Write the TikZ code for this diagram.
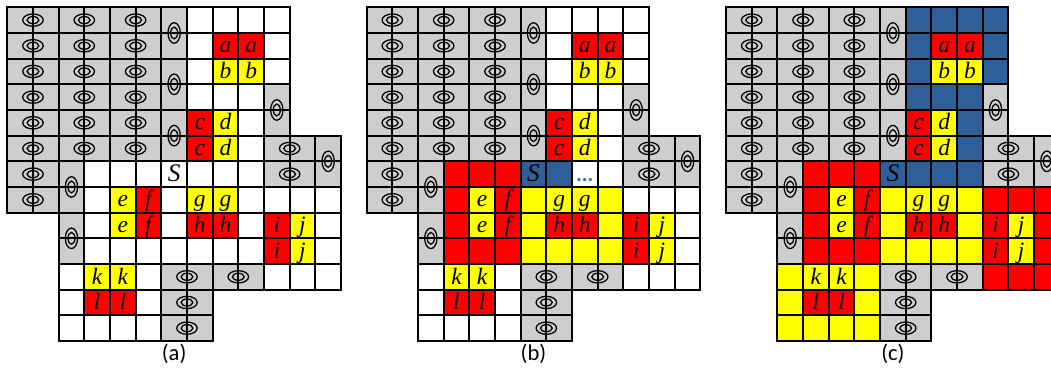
\documentclass[tikz,border=0pt]{standalone}
\usepackage{fontspec}
\setmainfont{Liberation Serif}
\newfontfamily\capfont{Carlito}
\definecolor{cellgray}{RGB}{206,206,206}
\definecolor{cellred}{RGB}{255,0,0}
\definecolor{cellyellow}{RGB}{255,255,0}
\definecolor{cellblue}{RGB}{46,95,152}
\definecolor{dotblue}{RGB}{58,108,182}
\begin{document}
\begin{tikzpicture}[x=0.5cm,y=-0.5cm,
  gridline/.style={line width=1pt,black,line join=miter},
  hole/.style={line width=0.7pt,black},
  tag/.style={font=\fontsize{13}{14}\selectfont\itshape,anchor=base,inner sep=0pt},
  bigtag/.style={font=\fontsize{14}{15}\selectfont\itshape,anchor=base,inner sep=0pt},
  caption/.style={font=\capfont\fontsize{12.5}{14}\selectfont,inner sep=0pt},
  dots/.style={font=\capfont\bfseries\fontsize{12}{13}\selectfont,text=dotblue,anchor=base,inner sep=0pt}]
\path[use as bounding box] (-0.284,-0.284) rectangle (40.66,14.13);
\clip (-0.284,-0.284) rectangle (40.66,14.13);

% ---- fills common to all three panels
\foreach \p/\sh in {a/0,b/7,c/14}{
  \begin{scope}[xshift=\sh cm]
    % gray blocks
    \fill[cellgray] (0,0) rectangle (7,6);
    \fill[cellgray] (0,6) rectangle (2,8);
    \fill[cellgray] (2,6) rectangle (3,10);
    \fill[cellgray] (10,3) rectangle (11,5);
    \fill[cellgray] (10,5) rectangle (13,7);
    \fill[cellgray] (6,10) rectangle (10,11);
    \fill[cellgray] (6,11) rectangle (8,13);
    % lettered cells
    \foreach \c/\r in {8/1,9/1,7/4,7/5,5/7,5/8,7/8,8/8,10/8,10/9,3/11,4/11}
      \fill[cellred] (\c,\r) rectangle ++(1,1);
    \foreach \c/\r in {8/2,9/2,8/4,8/5,4/7,4/8,7/7,8/7,11/8,11/9,3/10,4/10}
      \fill[cellyellow] (\c,\r) rectangle ++(1,1);
  \end{scope}
}

% ---- regions grown in panels (b) and (c)
\foreach \sh in {7,14}{
  \begin{scope}[xshift=\sh cm]
    \foreach \c/\r in {3/6,4/6,5/6,3/7,3/8,3/9,4/9,5/9}
      \fill[cellred] (\c,\r) rectangle ++(1,1);
    \foreach \c/\r in {6/7,6/8,6/9,9/7,9/8,7/9,8/9,9/9}
      \fill[cellyellow] (\c,\r) rectangle ++(1,1);
    \foreach \c/\r in {6/6,7/6}
      \fill[cellblue] (\c,\r) rectangle ++(1,1);
  \end{scope}
}

% ---- further growth in panel (c)
\begin{scope}[xshift=14cm]
  \foreach \c/\r in {7/0,8/0,9/0,10/0,7/1,10/1,7/2,10/2,7/3,8/3,9/3,9/4,9/5,8/6,9/6}
    \fill[cellblue] (\c,\r) rectangle ++(1,1);
  \foreach \c/\r in {10/7,11/7,12/7,12/8,12/9,10/10,11/10,12/10}
    \fill[cellred] (\c,\r) rectangle ++(1,1);
  \foreach \c/\r in {2/10,5/10,2/11,5/11,2/12,3/12,4/12,5/12}
    \fill[cellyellow] (\c,\r) rectangle ++(1,1);
\end{scope}

% ---- grid, obstacle marks, letters and captions
\foreach \p/\sh in {a/0,b/7,c/14}{
  \begin{scope}[xshift=\sh cm]
    \foreach \r in {0,...,4} \foreach \c in {0,...,10}
      \draw[gridline] (\c,\r) rectangle ++(1,1);
    \foreach \r in {5,...,7} \foreach \c in {0,...,12}
      \draw[gridline] (\c,\r) rectangle ++(1,1);
    \foreach \r in {8,...,10} \foreach \c in {2,...,12}
      \draw[gridline] (\c,\r) rectangle ++(1,1);
    \foreach \r in {11,12} \foreach \c in {2,...,7}
      \draw[gridline] (\c,\r) rectangle ++(1,1);
    % marks on horizontal blocks
    \foreach \x/\y in {1/0.5,3/0.5,5/0.5,1/1.5,3/1.5,5/1.5,1/2.5,3/2.5,5/2.5,
                       1/3.5,3/3.5,5/3.5,1/4.5,3/4.5,5/4.5,1/5.5,3/5.5,5/5.5,
                       1/6.5,1/7.5,11/5.5,11/6.5,7/10.5,9/10.5,7/11.5,7/12.5}{
      \draw[hole] (\x,\y) ellipse (0.2cm and 0.12cm);
      \draw[hole] (\x,\y) ellipse (0.115cm and 0.068cm);
    }
    % marks on vertical blocks
    \foreach \x/\y in {6.5/1,6.5/3,6.5/5,2.5/7,2.5/9,10.5/4,12.5/6}{
      \draw[hole] (\x,\y) ellipse (0.12cm and 0.2cm);
      \draw[hole] (\x,\y) ellipse (0.068cm and 0.115cm);
    }
    % cell letters
    \foreach \c/\r/\L in {8/1/a,9/1/a,8/2/b,9/2/b,7/4/c,7/5/c,8/4/d,8/5/d,
                          4/7/e,4/8/e,5/7/f,5/8/f,7/7/g,8/7/g,7/8/h,8/8/h,
                          10/8/i,10/9/i,11/8/j,11/9/j,3/10/k,4/10/k,3/11/l,4/11/l}
      \node[tag] (\p-\L-\c-\r) at (\c+0.5,\r+0.78) {\L};
    \node[bigtag] (\p-S) at (6.5,6.8) {S};
    \node[caption] (cap-\p) at (6.5,13.5) {(\p)};
  \end{scope}
}

% ---- frontier marker in panel (b)
\node[dots] (b-dots) at (22.5,6.8) {...};
\end{tikzpicture}
\end{document}
